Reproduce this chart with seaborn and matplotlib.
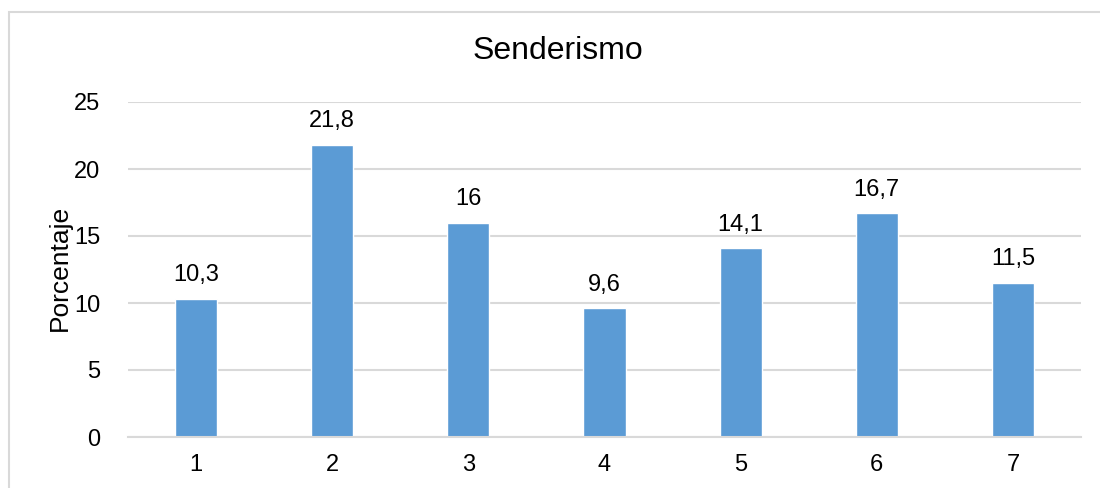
import matplotlib
matplotlib.use("Agg")
import matplotlib.pyplot as plt
import seaborn as sns
import pandas as pd
from matplotlib.patches import Rectangle

# data
categories = ["1", "2", "3", "4", "5", "6", "7"]
porcentaje = [10.3, 21.8, 16, 9.6, 14.1, 16.7, 11.5]
y_ticks = [0, 5, 10, 15, 20, 25]

BAR_COLOR = "#5B9BD5"
GRID_COLOR = "#D9D9D9"

sns.set_theme(style="white")
plt.rcParams["font.family"] = ["Liberation Sans", "DejaVu Sans"]
plt.rcParams["text.color"] = "black"
plt.rcParams["axes.labelcolor"] = "black"

df = pd.DataFrame({"categoria": categories, "porcentaje": porcentaje})

W, H = 1100, 488
fig = plt.figure(figsize=(W / 100, H / 100), dpi=100)
ax = fig.add_axes([128 / W, 1 - 437 / H, (1081 - 128) / W, (437 - 102) / H])

sns.barplot(data=df, x="categoria", y="porcentaje", color=BAR_COLOR,
            width=0.31, saturation=1, ax=ax)

ax.set_xlim(-0.5, len(categories) - 0.5)
ax.set_ylim(0, 25)
ax.set_yticks(y_ticks)
ax.yaxis.grid(True, color=GRID_COLOR, linewidth=1.5)
ax.set_axisbelow(True)
for side in ["top", "right", "left"]:
    ax.spines[side].set_visible(False)
ax.spines["bottom"].set_color(GRID_COLOR)
ax.spines["bottom"].set_linewidth(1.5)
ax.tick_params(axis="both", length=0, labelsize=17, colors="black")
ax.tick_params(axis="y", pad=20)
ax.tick_params(axis="x", pad=12)

labels = [f"{v:g}".replace(".", ",") for v in porcentaje]
ax.bar_label(ax.containers[0], labels=labels, padding=9, fontsize=17,
             color="black")

ax.set_xlabel("")
ax.set_ylabel("Porcentaje", fontsize=19, color="black")
ax.yaxis.set_label_coords((72 - 128) / (1081 - 128), (437 - 268) / (437 - 102))
fig.text(558 / W, 1 - 51 / H, "Senderismo", fontsize=23, ha="center",
         va="center", color="black")

# chart border (only top and left visible in the crop)
fig.patches.append(Rectangle((8.5 / W, -0.1), 1.2, 1.1 - 12 / H,
                             transform=fig.transFigure, fill=False,
                             edgecolor=GRID_COLOR, linewidth=1.5))

fig.savefig("out.png", dpi=100)
